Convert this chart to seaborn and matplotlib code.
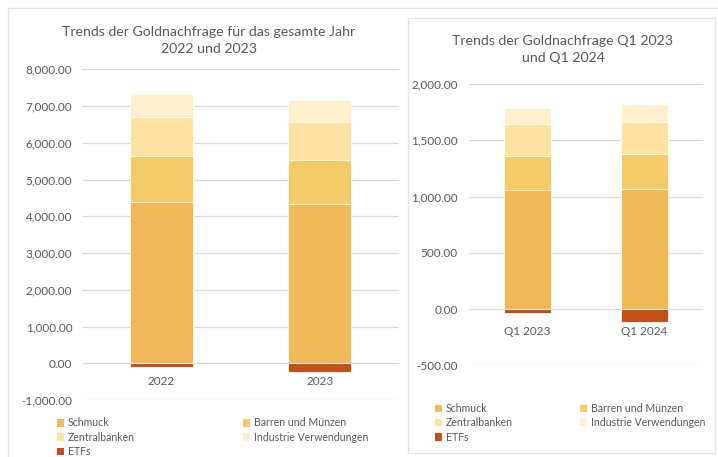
import matplotlib
matplotlib.use("Agg")
import matplotlib.pyplot as plt
from matplotlib.patches import Rectangle, Patch
from matplotlib.lines import Line2D
import numpy as np
import pandas as pd
import seaborn as sns

# ---- data ----
years = ["2022", "2023"]
quarters = ["Q1 2023", "Q1 2024"]
series = ["Schmuck", "Barren und Münzen", "Zentralbanken", "Industrie Verwendungen", "ETFs"]

year_schmuck = [4400, 4340]
year_barren = [1230, 1190]
year_zentral = [1085, 1045]
year_industrie = [605, 600]
year_etfs = [-110, -245]

q_schmuck = [1056, 1065]
q_barren = [304, 313]
q_zentral = [284, 287]
q_industrie = [142, 154]
q_etfs = [-33, -118]

colors = {
    "Schmuck": "#F1B85A",
    "Barren und Münzen": "#F4CB69",
    "Zentralbanken": "#FCE3A1",
    "Industrie Verwendungen": "#FEF0CC",
    "ETFs": "#C45019",
}

sns.set_theme(style="white")
plt.rcParams["font.family"] = ["Lato", "DejaVu Sans"]
TXT = "#595959"
GRID = "#D9D9D9"

W, H = 718, 457
fig = plt.figure(figsize=(W / 100, H / 100), dpi=100)
fig.patch.set_facecolor("white")


def fx(px):
    return px / W


def fy(py):
    return 1 - py / H


# outer frame of left chart (cut off on the right)
fig.add_artist(Line2D([fx(8), 1], [fy(8), fy(8)], color="#E3E3E3", lw=1, transform=fig.transFigure, zorder=0.2))
fig.add_artist(Line2D([fx(8), fx(8)], [fy(8), 0], color="#E3E3E3", lw=1, transform=fig.transFigure, zorder=0.2))


def draw(ax, cats, schm, barr, zent, indu, etfs, ylim, step, xpad, ypad):
    df = pd.DataFrame({"cat": cats, "Schmuck": schm, "Barren und Münzen": barr,
                       "Zentralbanken": zent, "Industrie Verwendungen": indu, "ETFs": etfs})
    pos = ["Schmuck", "Barren und Münzen", "Zentralbanken", "Industrie Verwendungen"]
    cum = df[pos].cumsum(axis=1)
    for name in reversed(pos):
        sns.barplot(x=df["cat"], y=cum[name], color=colors[name], width=0.4, ax=ax,
                    edgecolor="white", linewidth=0.6, saturation=1, zorder=2)
    sns.barplot(x=df["cat"], y=df["ETFs"], color=colors["ETFs"], width=0.4, ax=ax,
                edgecolor="white", linewidth=0.6, saturation=1, zorder=2)
    ax.set_ylim(*ylim)
    ax.set_xlim(-0.5, 1.5)
    ticks = np.arange(ylim[0], ylim[1] + step / 2, step)
    ax.set_yticks(ticks)
    ax.set_yticklabels([f"{t:,.2f}" for t in ticks])
    ax.yaxis.grid(True, color=GRID, lw=0.9, zorder=0)
    ax.set_axisbelow(True)
    for s in ax.spines.values():
        s.set_visible(False)
    ax.spines["bottom"].set_position(("data", 0))
    ax.tick_params(axis="both", length=0, colors=TXT, labelsize=8.5)
    ax.tick_params(axis="x", pad=xpad)
    ax.tick_params(axis="y", pad=ypad)
    ax.set_xlabel("")
    ax.set_ylabel("")
    ax.set_facecolor("none")


# left chart
ax1 = fig.add_axes([fx(82), fy(400), (399 - 82) / W, (400 - 69.3) / H])
draw(ax1, years, year_schmuck, year_barren, year_zentral, year_industrie, year_etfs,
     (-1000, 8000), 1000, 9, 7)
fig.text(fx(209), fy(40.5), "Trends der Goldnachfrage für das gesamte Jahr\n2022 und 2023",
         ha="center", va="center", fontsize=10.2, color=TXT, linespacing=1.45)

# right chart box
fig.add_artist(Rectangle((fx(408), fy(453)), (715 - 408) / W, (453 - 18) / H,
                         transform=fig.transFigure, facecolor="white", edgecolor="#E3E3E3",
                         lw=1, zorder=0.5))
ax2 = fig.add_axes([fx(469), fy(365.3), (703 - 469) / W, (365.3 - 84) / H])
ax2.set_zorder(1)
draw(ax2, quarters, q_schmuck, q_barren, q_zentral, q_industrie, q_etfs,
     (-500, 2000), 500, 12, 8)
fig.text(fx(563), fy(49.5), "Trends der Goldnachfrage Q1 2023\nund Q1 2024",
         ha="center", va="center", fontsize=10.2, color=TXT, linespacing=1.45, zorder=2)

# legends (row-wise order)
order = ["Schmuck", "Zentralbanken", "ETFs", "Barren und Münzen", "Industrie Verwendungen"]
handles = [Patch(facecolor=colors[n], edgecolor="none") for n in order]

common = dict(ncol=2, loc="upper left", frameon=False, fontsize=7.6, labelcolor=TXT,
              handlelength=0.7, handleheight=0.7, handletextpad=0.35, labelspacing=0.32,
              borderaxespad=0, borderpad=0)
leg1 = fig.legend(handles, order, bbox_to_anchor=(fx(57), fy(417.5)), columnspacing=10.2, **common)
leg2 = fig.legend(handles, order, bbox_to_anchor=(fx(435), fy(403)), columnspacing=6.3, **common)
leg2.set_zorder(2)

fig.savefig("out.png", dpi=100, facecolor="white")
